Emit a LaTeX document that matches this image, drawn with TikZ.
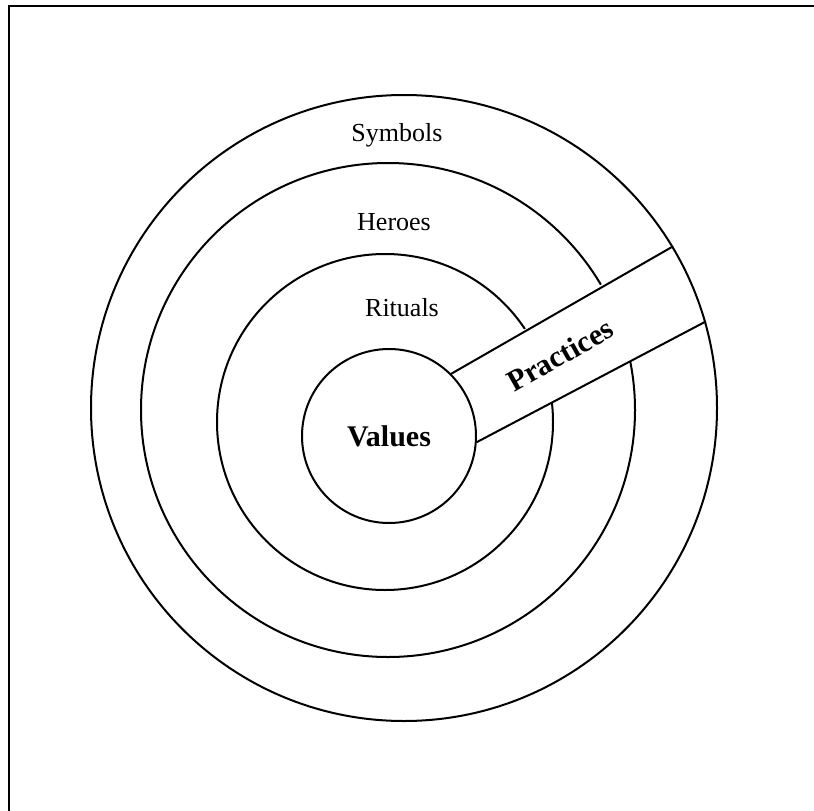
\documentclass[tikz,border=0pt]{standalone}
\usepackage{fontspec}
\setmainfont{Liberation Serif}
\usetikzlibrary{positioning,calc}

\begin{document}
\begin{tikzpicture}[x=1pt,y=-1pt,
    ring/.style={draw, circle, inner sep=0pt, line width=2pt},
    layer/.style={font=\fontsize{26}{30}\selectfont},
    core/.style={font=\fontsize{30}{34}\selectfont\bfseries}]
        \useasboundingbox (0,0) rectangle (814,811);
        \clip (0,0) rectangle (814,811);
        % moldura
        \draw[line width=2.5pt] (9,6) rectangle (840,840);
        % camadas intermediarias
        \node[ring, minimum size=494pt] (heroes) at (388,410) {};
        \node[ring, minimum size=336pt] (rituals) at (385,422) {};
        % faixa branca das praticas
        \fill[white] (420,390) -- (690,233) -- (725,310) -- (447,459) -- cycle;
        % nucleo e camada externa
        \node[ring, fill=white, minimum size=174pt, core] (values) at (389,436) {Values};
        \node[ring, minimum size=626pt] (symbols) at (404,408) {};
        % bordas da faixa
        \draw[line width=2pt] (values.45.9) -- (symbols.31.5);
        \draw[line width=2pt] (values.-4.5) -- (symbols.16.2);
        % rotulos
        \node[layer] (symLbl) at (397,135) {Symbols};
        \node[layer] (herLbl) at (394,222) {Heroes};
        \node[layer] (ritLbl) at (402,308) {Rituals};
        \node[core, rotate=29.5] (pracLbl) at (560,355) {Practices};
    \end{tikzpicture}
\end{document}
